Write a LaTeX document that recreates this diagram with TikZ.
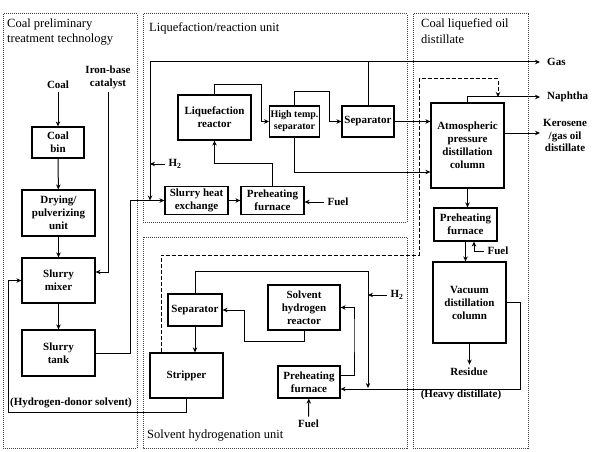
\documentclass[tikz,border=0pt]{standalone}
\usepackage{fontspec}
\setmainfont{Liberation Serif}
\usetikzlibrary{arrows.meta}
\tikzset{
    unit-box/.style = {draw, line width=1.2pt, rectangle, align=center, inner sep=1pt, font=\bfseries\fontsize{11}{13}\selectfont},
    unit-frame/.style = {draw=black!75, line width=1pt, dash pattern=on 1pt off 1pt},
    unit-title/.style = {align=left, inner sep=0pt, font=\fontsize{12.5}{15.5}\selectfont},
    stream-label/.style = {align=center, font=\bfseries\fontsize{11}{12.5}\selectfont},
    outlet-label/.style = {stream-label, anchor=west, inner xsep=7pt},
    flow/.style = {line width=1pt, -{Stealth[length=5pt,width=4.5pt]}},
    pipe/.style = {line width=1pt},
}
\begin{document}
\begin{tikzpicture}[x=1pt, y=-1pt]
\useasboundingbox (0,0) rectangle (592,452);
\draw[unit-frame] (3,14) rectangle (137,448);
\draw[unit-frame] (143,14) rectangle (407,222);
\draw[unit-frame] (143,237) rectangle (407,448);
\draw[unit-frame] (413,14) rectangle (528,448);
\node[unit-title, anchor=north west] (title-pre) at (7,18.5) {Coal preliminary\\treatment technology};
\node[unit-title, anchor=west] (title-liq) at (149,28) {Liquefaction/reaction unit};
\node[unit-title, anchor=west] (title-sol) at (147,436) {Solvent hydrogenation unit};
\node[unit-title, anchor=north west] (title-oil) at (421,18.5) {Coal liquefied oil\\distillate};

\node[stream-label] (coal) at (58,85) {Coal};
\node[stream-label] (catalyst) at (108,77.5) {Iron-base\\catalyst};
\node[unit-box, minimum width=52pt, minimum height=31pt] (coalbin) at (58,142.5) {Coal\\bin};
\node[unit-box, minimum width=73pt, minimum height=46pt] (drying) at (58.5,213) {Drying/\\pulverizing\\unit};
\node[unit-box, minimum width=73pt, minimum height=45pt] (mixer) at (58.5,280.5) {Slurry\\mixer};
\node[unit-box, minimum width=73pt, minimum height=46pt] (tank) at (58.5,353) {Slurry\\tank};
\node[stream-label] (donor) at (71,403) {(Hydrogen-donor solvent)};

\coordinate (recycle) at (150,62);
\node[stream-label] (h2top) at (175,164) {H\textsubscript{2}};
\node[unit-box, minimum width=73pt, minimum height=45pt] (reactor) at (214.5,117.5) {Liquefaction\\reactor};
\node[unit-box, minimum width=49pt, minimum height=31pt, font=\bfseries\fontsize{10}{12}\selectfont] (htsep) at (294.5,121.5) {High temp.\\separator};
\node[unit-box, minimum width=52pt, minimum height=31pt] (sep) at (368,121.5) {Separator};
\node[unit-box, minimum width=63pt, minimum height=28pt] (slurryhx) at (196.5,200.5) {Slurry heat\\exchange};
\node[unit-box, minimum width=63pt, minimum height=28pt] (furnace1) at (272.5,200.5) {Preheating\\furnace};
\node[stream-label] (fuel1) at (338,202) {Fuel};

\coordinate (h2feed) at (368,271);
\node[unit-box, minimum width=54pt, minimum height=32pt] (sep2) at (195,310) {Separator};
\node[unit-box, minimum width=73pt, minimum height=45pt] (stripper) at (186.5,375.5) {Stripper};
\node[unit-box, minimum width=72pt, minimum height=45pt] (shreactor) at (304,307.5) {Solvent\\hydrogen\\reactor};
\node[unit-box, minimum width=62pt, minimum height=32pt] (furnace2) at (309,382) {Preheating\\furnace};
\node[stream-label] (h2low) at (397,295) {H\textsubscript{2}};
\node[stream-label] (fuel2) at (308.5,424) {Fuel};

\node[unit-box, minimum width=73pt, minimum height=85pt] (atmcol) at (467.5,145.5) {Atmospheric\\pressure\\distillation\\column};
\node[unit-box, minimum width=63pt, minimum height=33pt] (furnace3) at (465.5,224.5) {Preheating\\furnace};
\node[unit-box, minimum width=73pt, minimum height=81pt] (vaccol) at (469.5,302.5) {Vacuum\\distillation\\column};
\node[outlet-label] (gas) at (540,62) {Gas};
\node[outlet-label] (naphtha) at (540,97) {Naphtha};
\node[outlet-label, inner xsep=3pt] (kerosene) at (540,135.5) {Kerosene\\/gas oil\\distillate};
\node[stream-label] (fuel3) at (498,251) {Fuel};
\node[stream-label] (residue) at (469,372) {Residue};
\node[stream-label] (heavy) at (461,395) {(Heavy distillate)};

\draw[flow] (coal) -- (coalbin);
\draw[flow] (coalbin) -- (drying);
\draw[flow] (drying) -- (mixer);
\draw[flow] (mixer) -- (tank);
\draw[flow] (catalyst.south) |- ([yshift=8.5pt]mixer.east);
\draw[flow] (tank.east) -- ++(34.5,0) |- (slurryhx.west);
\draw[flow] (stripper.south) |- (8,412) |- (mixer.west);

\draw[pipe] (sep.north) -- (sep.north |- recycle);
\draw[flow] (recycle) -- (gas);
\draw[flow] (recycle) -- (recycle |- slurryhx.west);
\draw[flow] (h2top.west) -- (h2top.west -| recycle);
\draw[flow] (reactor.north) |- (261,85) |- (htsep.west);
\draw[flow] (htsep.north) |- (329,92) |- (sep.west);
\draw[flow] (sep.east) -- (sep.east -| atmcol.west);
\draw[flow] (htsep.south) |- ([yshift=-26.5pt]atmcol.west);
\draw[flow] (slurryhx) -- (furnace1);
\draw[flow] (furnace1.north) -- ++(0,-22) -| (reactor.south);
\draw[flow] (fuel1.west) -- (fuel1.west -| furnace1.east);

\draw[flow] (sep2) -- (sep2.south |- stripper.north);
\draw[pipe] (sep2.north) |- (h2feed);
\draw[flow] (h2feed) -- (368,388);
\draw[flow] (h2low.west) -- (h2low.west -| h2feed);
\draw[flow] (shreactor.south) -- ++(0,11) -| (244,310) -- (sep2.east);
\draw[flow] ([yshift=7pt]furnace2.east) -| (354,330) |- (shreactor.east);
\draw[flow] (vaccol.east) -| (520,389) -- ([yshift=-7pt]furnace2.east);
\draw[flow] (fuel2) -- (furnace2);
\draw[flow, dash pattern=on 4pt off 2pt] ([xshift=-25.5pt]stripper.north) |- (419,255) |- (498,79) -- (498,97);

\draw[flow] (atmcol.north) |- (naphtha);
\draw[flow] ([yshift=12.5pt]atmcol.east) -- ([yshift=12.5pt]atmcol.east -| kerosene.west);
\draw[flow] (atmcol.south) -- (atmcol.south |- furnace3.north);
\draw[flow] (furnace3.south) -- (furnace3.south |- vaccol.north);
\draw[flow] (fuel3.west) -| ([xshift=8.5pt]furnace3.south);
\draw[flow] (vaccol.south) -- (vaccol.south |- residue.north);
\end{tikzpicture}
\end{document}
